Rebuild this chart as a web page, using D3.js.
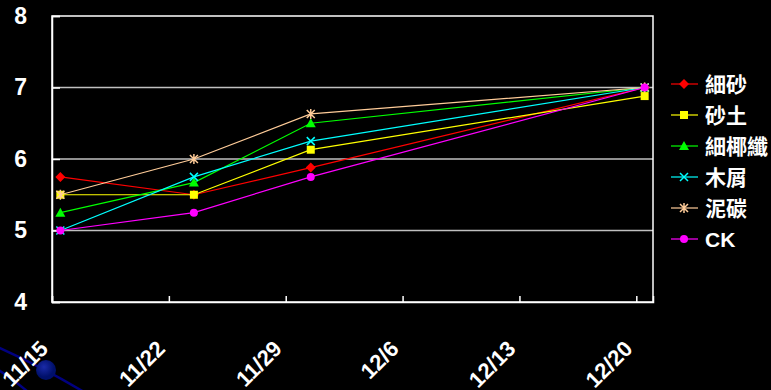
<!DOCTYPE html>
<html><head><meta charset="utf-8">
<script src="https://cdn.jsdelivr.net/npm/d3@7"></script>
<style>
html,body{margin:0;padding:0;background:#000;}
svg{display:block;}
</style></head>
<body>
<svg id="c" width="771" height="390"></svg>
<script>
const dates = ["11/15", "11/23", "11/30", "12/20"];
const tickLabels = ["11/15", "11/22", "11/29", "12/6", "12/13", "12/20"];
const yTicks = [4, 5, 6, 7, 8];
const seriesNames = ["細砂", "砂土", "細椰纖", "木屑", "泥碳", "CK"];
const seriesColors = ["#ff0000", "#ffff00", "#00ff00", "#00ffff", "#ffcc99", "#ff00ff"];
const seriesMarkers = ["diamond", "square", "triangle", "cross", "star", "circle"];
const v細砂 = [5.75, 5.5, 5.88, 7.0];
const v砂土 = [5.5, 5.5, 6.13, 6.88];
const v細椰纖 = [5.25, 5.67, 6.5, 7.0];
const v木屑 = [5.0, 5.75, 6.25, 7.0];
const v泥碳 = [5.5, 6.0, 6.63, 7.0];
const vCK = [5.0, 5.25, 5.75, 7.0];
const seriesValues = [v細砂, v砂土, v細椰纖, v木屑, v泥碳, vCK];

const parse = s => { const [m, d] = s.split("/").map(Number); return new Date(2005, m - 1, d); };
const svg = d3.select("#c");
const L = 52, R = 653, T = 16, B = 302;
const x = d3.scaleTime().domain([parse("11/15"), d3.timeDay.offset(parse("12/20"), 1)]).range([L, R]);
const y = d3.scaleLinear().domain([4, 8]).range([B, T]);
const xp = s => x(d3.timeHour.offset(parse(s), 12));

// decoration
const deco = svg.append("g");
deco.append("path").attr("d", "M-5,346 Q40,366 84,392").attr("fill", "none").attr("stroke", "#000080").attr("stroke-width", 2.5);
deco.append("path").attr("d", "M-5,368 Q12,378 28,392").attr("fill", "none").attr("stroke", "#000080").attr("stroke-width", 2.5);
const grad = svg.append("defs").append("radialGradient").attr("id", "bg").attr("cx", "40%").attr("cy", "35%");
grad.append("stop").attr("offset", "0%").attr("stop-color", "#1a2aa8");
grad.append("stop").attr("offset", "100%").attr("stop-color", "#00106a");
deco.append("circle").attr("cx", 46).attr("cy", 370).attr("r", 10).attr("fill", "url(#bg)");

// gridlines
svg.append("g").selectAll("line").data(yTicks.slice(1, -1)).join("line")
  .attr("x1", L).attr("x2", R).attr("y1", d => y(d)).attr("y2", d => y(d))
  .attr("stroke", "#c0c0c0").attr("stroke-width", 1.5);
// border
svg.append("rect").attr("x", L).attr("y", T).attr("width", R - L).attr("height", B - T)
  .attr("fill", "none").attr("stroke", "#ffffff").attr("stroke-width", 1.5);

// y axis
const ya = svg.append("g").attr("transform", `translate(${L},0)`)
  .call(d3.axisLeft(y).tickValues(yTicks).tickSize(-8).tickFormat(d3.format("d")));
ya.select(".domain").attr("stroke", "#fff").attr("stroke-width", 1.5);
ya.selectAll(".tick line").attr("stroke", "#fff").attr("stroke-width", 1.5);
ya.selectAll(".tick text").attr("x", -25).attr("fill", "#fff")
  .attr("font-family", "Liberation Sans, Arial, sans-serif").attr("font-weight", "bold").attr("font-size", 23);

// x axis
const xa = svg.append("g").attr("transform", `translate(0,${B})`)
  .call(d3.axisBottom(x).tickValues(tickLabels.map(parse)).tickSize(-6).tickFormat((d, i) => tickLabels[i]));
xa.select(".domain").attr("stroke", "#fff").attr("stroke-width", 1.5);
xa.selectAll(".tick line").attr("stroke", "#fff").attr("stroke-width", 1.5);
xa.selectAll(".tick text")
  .attr("fill", "#fff").attr("font-family", "Liberation Sans, Arial, sans-serif").attr("font-weight", "bold").attr("font-size", 22)
  .attr("text-anchor", "end").attr("dy", null).attr("y", 0).attr("x", 0)
  .attr("transform", "translate(-3,48) rotate(-45)");

function marker(g, type, color) {
  const s = 4;
  if (type === "diamond") g.append("path").attr("d", `M0,${-s - 1}L${s + 1},0L0,${s + 1}L${-s - 1},0Z`).attr("fill", color);
  else if (type === "square") g.append("rect").attr("x", -s).attr("y", -s).attr("width", 2 * s).attr("height", 2 * s).attr("fill", color);
  else if (type === "triangle") g.append("path").attr("d", `M0,${-s - 1}L${s + 1},${s}L${-s - 1},${s}Z`).attr("fill", color);
  else if (type === "circle") g.append("circle").attr("r", s).attr("fill", color);
  else if (type === "cross") g.append("path").attr("d", `M${-s},${-s}L${s},${s}M${-s},${s}L${s},${-s}`).attr("stroke", color).attr("stroke-width", 1.5);
  else if (type === "star") g.append("path").attr("d", `M${-s},${-s}L${s},${s}M${-s},${s}L${s},${-s}M0,${-s - 1}L0,${s + 1}`).attr("stroke", color).attr("stroke-width", 1.5);
}

const line = d3.line().x((d, i) => xp(dates[i])).y(d => y(d));
seriesValues.forEach((vals, k) => {
  const g = svg.append("g");
  g.append("path").datum(vals).attr("d", line).attr("fill", "none").attr("stroke", seriesColors[k]).attr("stroke-width", 1.2);
  vals.forEach((v, i) => marker(g.append("g").attr("transform", `translate(${xp(dates[i])},${y(v)})`), seriesMarkers[k], seriesColors[k]));
});

// legend
const lg = svg.append("g");
seriesNames.forEach((n, k) => {
  const yy = 84 + k * 31;
  lg.append("line").attr("x1", 671).attr("x2", 698).attr("y1", yy).attr("y2", yy).attr("stroke", seriesColors[k]).attr("stroke-width", 1.2);
  marker(lg.append("g").attr("transform", `translate(684,${yy})`), seriesMarkers[k], seriesColors[k]);
  lg.append("text").attr("x", 705).attr("y", yy).attr("dy", "0.36em").text(n)
    .attr("fill", "#fff").attr("font-family", "Liberation Sans, 'Noto Sans CJK TC', sans-serif").attr("font-weight", "bold").attr("font-size", 21);
});
</script>
</body></html>
